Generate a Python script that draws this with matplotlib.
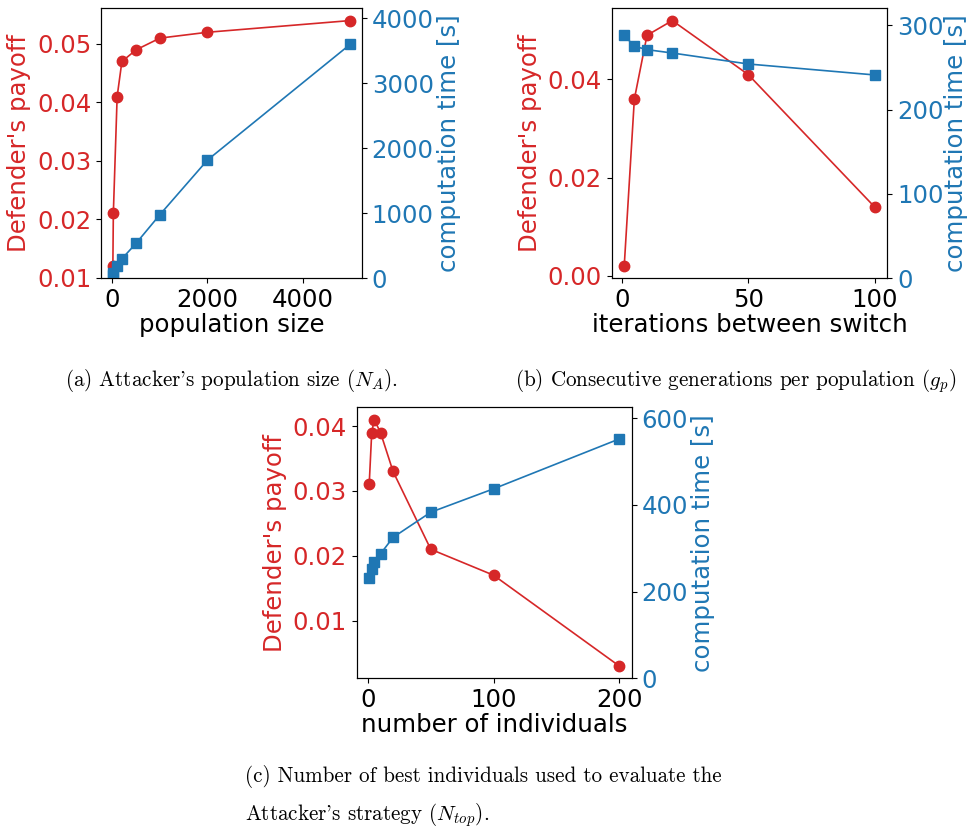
import matplotlib
matplotlib.use("Agg")
import matplotlib.pyplot as plt

# ---- data ----
pop_size = [10, 20, 100, 200, 500, 1000, 2000, 5000]
pop_payoff = [0.012, 0.021, 0.041, 0.047, 0.049, 0.051, 0.052, 0.054]
pop_time = [50, 80, 190, 300, 540, 980, 1820, 3600]

iters = [1, 5, 10, 20, 50, 100]
iters_payoff = [0.002, 0.036, 0.049, 0.052, 0.041, 0.014]
iters_time = [288, 275, 271, 267, 254, 241]

n_ind = [1, 3, 5, 10, 20, 50, 100, 200]
n_payoff = [0.031, 0.039, 0.041, 0.039, 0.033, 0.021, 0.017, 0.003]
n_time = [232, 252, 269, 287, 325, 383, 437, 552]

xlabels = ["population size", "iterations between switch", "number of individuals"]
captions = [
    "(a) Attacker's population size $(N_A)$.",
    "(b) Consecutive generations per population $(g_p)$",
    "(c) Number of best individuals used to evaluate the",
    "Attacker's strategy $(N_{top})$.",
]

RED = "#d62728"
BLUE = "#1f77b4"
FS = 17.6

plt.rcParams["mathtext.fontset"] = "cm"

W, H = 968, 832
fig = plt.figure(figsize=(W / 100, H / 100), dpi=100)


def rect(l, t, r, b):
    return [l / W, 1 - b / H, (r - l) / W, (b - t) / H]


def panel(r, x, y1, y2, xlabel, xticks, lticks, rticks, rlim, rpad=2):
    ax = fig.add_axes(r)
    ax.plot(x, y1, color=RED, marker="o", markersize=7.5, lw=1.2)
    ax.set_xlabel(xlabel, fontsize=FS, color="black", labelpad=1)
    ax.set_ylabel("Defender's payoff", fontsize=FS, color=RED, labelpad=4)
    ax.set_xticks(xticks)
    ax.set_yticks(lticks)
    ax.tick_params(axis="x", labelsize=FS, colors="black")
    ax.tick_params(axis="y", labelsize=FS, labelcolor=RED)
    ax2 = ax.twinx()
    ax2.plot(x, y2, color=BLUE, marker="s", markersize=7.5, lw=1.2)
    ax2.set_ylim(*rlim)
    ax2.set_yticks(rticks)
    ax2.set_ylabel("computation time [s]", fontsize=FS, color=BLUE, labelpad=rpad)
    ax2.tick_params(axis="y", labelsize=FS, labelcolor=BLUE)
    return ax, ax2


panel(rect(101, 8.3, 362, 278.3), pop_size, pop_payoff, pop_time, xlabels[0],
      [0, 2000, 4000], [0.01, 0.02, 0.03, 0.04, 0.05], [0, 1000, 2000, 3000, 4000], (0, 4155))
panel(rect(611.7, 8.3, 887.3, 278.3), iters, iters_payoff, iters_time, xlabels[1],
      [0, 50, 100], [0.0, 0.02, 0.04], [0, 100, 200, 300], (0, 320), rpad=0.5)
panel(rect(356.7, 407.3, 631.7, 678.3), n_ind, n_payoff, n_time, xlabels[2],
      [0, 100, 200], [0.01, 0.02, 0.03, 0.04], [0, 200, 400, 600], (0, 625))

cap_kw = dict(family="cmr10", fontsize=15.2, color="black", va="center")
fig.text(65 / W, 1 - 381 / H, captions[0], ha="left", **cap_kw)
fig.text(515 / W, 1 - 381 / H, captions[1], ha="left", **cap_kw)
fig.text(245 / W, 1 - 776 / H, captions[2], ha="left", **cap_kw)
fig.text(245 / W, 1 - 815 / H, captions[3], ha="left", **cap_kw)

fig.savefig("out.png", dpi=100)
